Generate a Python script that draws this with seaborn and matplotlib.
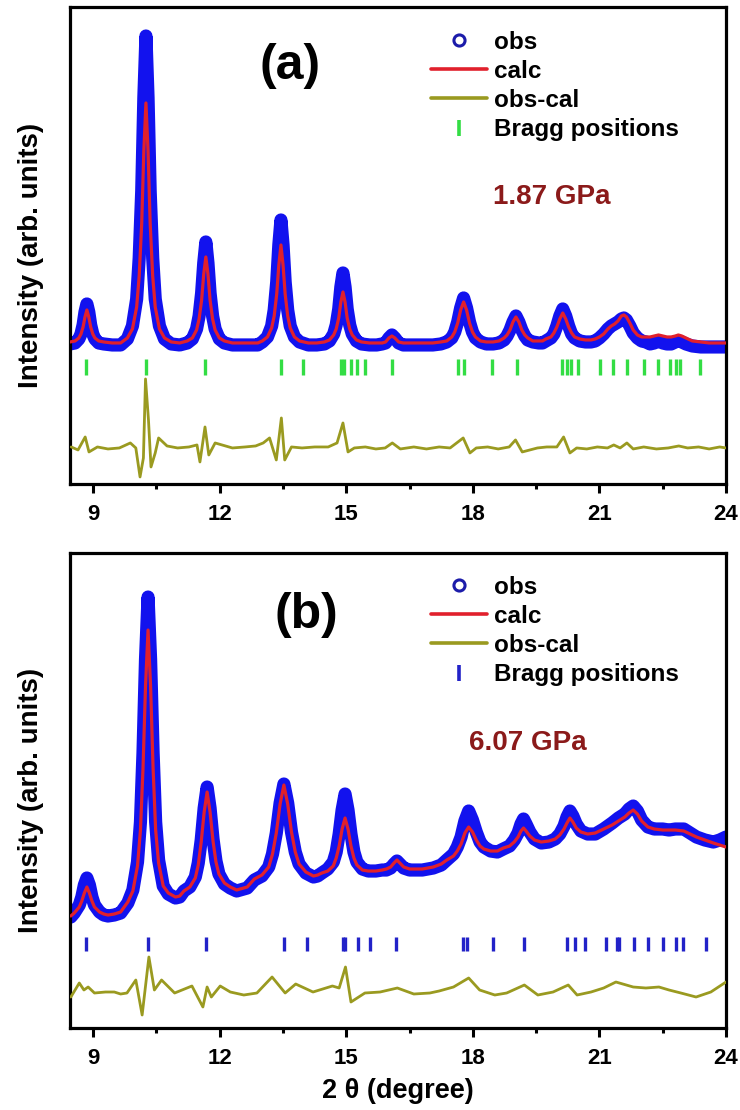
import matplotlib
matplotlib.use("Agg")
import matplotlib.pyplot as plt
from matplotlib.lines import Line2D
from matplotlib.ticker import MultipleLocator
import pandas as pd
import seaborn as sns

# ---------------- panel (a): 1.87 GPa ----------------
two_theta_a = [8.45, 8.57, 8.66, 8.71, 8.76, 8.805, 8.85, 8.895, 8.94, 8.99, 9.04, 9.13, 9.25,
               9.45, 9.65, 9.81, 9.93, 10.03, 10.09, 10.15, 10.20, 10.25, 10.30, 10.35, 10.41,
               10.47, 10.57, 10.69, 10.85, 11.05, 11.23, 11.35, 11.45, 11.51, 11.57, 11.62, 11.67,
               11.72, 11.77, 11.83, 11.89, 11.99, 12.11, 12.30, 12.50, 12.70, 12.90, 13.01, 13.13,
               13.23, 13.29, 13.35, 13.40, 13.45, 13.50, 13.55, 13.61, 13.67, 13.77, 13.89, 14.10,
               14.30, 14.48, 14.60, 14.70, 14.76, 14.82, 14.87, 14.92, 14.97, 15.02, 15.08, 15.14,
               15.24, 15.36, 15.55, 15.72, 15.85, 15.93, 16.01, 16.08, 16.15, 16.24, 16.35, 16.60,
               16.85, 17.05, 17.24, 17.38, 17.50, 17.57, 17.64, 17.71, 17.78, 17.85, 17.92, 17.99,
               18.06, 18.18, 18.32, 18.48, 18.62, 18.74, 18.81, 18.88, 18.95, 19.02, 19.09, 19.16,
               19.23, 19.30, 19.42, 19.56, 19.65, 19.73, 19.85, 19.92, 19.99, 20.06, 20.13, 20.20,
               20.27, 20.34, 20.41, 20.53, 20.67, 20.80, 20.90, 21.00, 21.10, 21.20, 21.28, 21.36,
               21.44, 21.52, 21.58, 21.64, 21.72, 21.80, 21.90, 22.00, 22.10, 22.20, 22.30, 22.40,
               22.50, 22.60, 22.70, 22.80, 22.87, 22.95, 23.05, 23.20, 23.40, 23.60, 23.80, 24.00]
calc_a = [142, 143, 146, 150, 157, 167, 174, 167, 157, 150, 146, 143, 142,
          141, 141, 146, 155, 177, 208, 261, 333, 381, 333, 261, 208,
          177, 155, 146, 142, 141, 143, 146, 154, 165, 184, 210, 227,
          210, 184, 165, 154, 146, 143, 141, 141, 141, 141, 143, 147,
          156, 168, 190, 219, 239, 219, 190, 168, 156, 147, 143, 141,
          141, 142, 144, 149, 155, 166, 182, 192, 182, 166, 155, 149,
          144, 142, 141, 141, 141, 142, 146, 148, 146, 142, 141, 141,
          141, 141, 142, 143, 147, 152, 161, 174, 182, 174, 161, 152,
          147, 143, 142, 142, 143, 146, 149, 154, 162, 167, 162, 154,
          149, 146, 143, 143, 143, 145, 147, 151, 157, 165, 171, 165,
          157, 151, 147, 145, 144, 144, 145, 147, 150, 155, 158, 160,
          163, 168, 169, 167, 161, 154, 149, 147, 147, 147, 148, 149,
          148, 147, 147, 148, 149, 148, 146, 143, 142, 141, 141, 141]
obs_a = [140, 141, 145, 150, 159, 172, 180, 172, 159, 150, 145, 141, 140,
         139, 139, 145, 158, 185, 226, 293, 386, 448, 386, 293, 226,
         185, 158, 145, 140, 139, 141, 145, 155, 168, 191, 221, 242,
         221, 191, 168, 155, 145, 141, 139, 139, 139, 139, 142, 147,
         158, 174, 202, 239, 264, 239, 202, 174, 158, 147, 142, 139,
         139, 140, 143, 150, 159, 175, 197, 211, 197, 175, 159, 150,
         143, 140, 139, 139, 140, 141, 146, 149, 146, 141, 139, 139,
         139, 139, 140, 142, 146, 152, 162, 176, 186, 176, 162, 152,
         146, 142, 140, 140, 141, 144, 148, 154, 162, 168, 162, 154,
         148, 144, 142, 141, 141, 143, 146, 150, 158, 168, 175, 168,
         158, 150, 146, 143, 142, 142, 143, 146, 150, 155, 158, 160,
         162, 165, 166, 164, 158, 151, 146, 143, 142, 140, 141, 143,
         141, 140, 140, 142, 143, 142, 140, 138, 137, 137, 137, 137]
diff_x_a = [8.48, 8.64, 8.81, 8.90, 9.10, 9.35, 9.62, 9.88, 10.01, 10.11, 10.19, 10.24, 10.31,
            10.37, 10.47, 10.55, 10.75, 11.00, 11.27, 11.46, 11.53, 11.65, 11.74, 11.89, 12.30,
            12.60, 12.85, 13.03, 13.18, 13.34, 13.46, 13.54, 13.70, 13.95, 14.25, 14.57, 14.78,
            14.92, 15.04, 15.19, 15.45, 15.70, 15.92, 16.09, 16.28, 16.60, 16.90, 17.20, 17.46,
            17.77, 17.93, 18.08, 18.35, 18.60, 18.86, 19.01, 19.17, 19.53, 19.75, 19.99, 20.15,
            20.30, 20.46, 20.70, 20.95, 21.19, 21.34, 21.49, 21.65, 21.80, 22.05, 22.35, 22.63,
            22.88, 23.09, 23.35, 23.60, 23.85, 24.00]
diff_a = [37, 34, 47, 32, 37, 35, 36, 41, 36, 7, 26, 105, 64,
          17, 31, 46, 38, 36, 37, 39, 22, 57, 29, 41, 36,
          37, 38, 41, 46, 24, 66, 24, 37, 36, 37, 37, 41,
          61, 32, 36, 37, 35, 36, 41, 35, 37, 35, 37, 36,
          46, 31, 36, 37, 35, 37, 44, 32, 36, 37, 37, 47,
          31, 36, 35, 37, 36, 39, 36, 41, 35, 37, 35, 36,
          38, 36, 37, 35, 37, 36]
bragg_a = [8.83, 10.26, 11.66, 13.45, 13.98, 14.87, 14.94, 15.11, 15.25, 15.45, 16.09,
           17.65, 17.80, 18.45, 19.04, 20.12, 20.22, 20.32, 20.50, 21.02, 21.33, 21.66,
           22.05, 22.38, 22.67, 22.82, 22.90, 23.39]

# ---------------- panel (b): 6.07 GPa ----------------
two_theta_b = [8.47, 8.55, 8.67, 8.73, 8.79, 8.85, 8.91, 8.97, 9.03, 9.15, 9.25, 9.35, 9.50, 9.65,
               9.82, 9.94, 10.05, 10.12, 10.18, 10.24, 10.30, 10.36, 10.42, 10.48, 10.55, 10.66,
               10.78, 10.95, 11.05, 11.15, 11.29, 11.42, 11.49, 11.56, 11.63, 11.70, 11.77, 11.84,
               11.91, 11.98, 12.11, 12.25, 12.40, 12.65, 12.82, 13.00, 13.16, 13.25, 13.34, 13.43,
               13.52, 13.61, 13.70, 13.79, 13.88, 14.04, 14.22, 14.32, 14.42, 14.56, 14.69, 14.76,
               14.83, 14.90, 14.97, 15.04, 15.11, 15.18, 15.25, 15.38, 15.52, 15.70, 15.85, 15.95,
               16.05, 16.13, 16.20, 16.27, 16.36, 16.50, 16.80, 17.06, 17.25, 17.38, 17.54, 17.63,
               17.72, 17.81, 17.90, 17.99, 18.08, 18.17, 18.26, 18.42, 18.58, 18.72, 18.87, 18.98,
               19.07, 19.14, 19.20, 19.26, 19.35, 19.46, 19.62, 19.80, 19.95, 20.06, 20.16, 20.23,
               20.30, 20.37, 20.45, 20.56, 20.72, 20.90, 21.10, 21.30, 21.45, 21.60, 21.70, 21.80,
               21.90, 22.00, 22.15, 22.30, 22.50, 22.65, 22.80, 23.00, 23.15, 23.30, 23.50, 23.70,
               23.85, 24.00]
calc_b = [112, 115, 121, 127, 135, 141, 135, 127, 121, 116, 114, 113, 114, 116,
          126, 137, 162, 198, 259, 342, 398, 342, 259, 198, 165, 142,
          135, 131, 132, 137, 141, 150, 163, 186, 216, 236, 216, 187,
          166, 154, 145, 141, 138, 141, 149, 153, 161, 174, 195, 224,
          243, 224, 196, 176, 164, 156, 152, 153, 155, 157, 162, 170,
          182, 199, 210, 199, 182, 170, 163, 158, 157, 157, 158, 159,
          161, 165, 168, 165, 161, 159, 159, 161, 164, 168, 172, 177,
          184, 195, 201, 196, 188, 182, 179, 177, 177, 180, 182, 186,
          191, 197, 200, 197, 192, 188, 186, 187, 189, 193, 199, 205,
          210, 206, 200, 196, 194, 195, 199, 203, 207, 211, 215, 218,
          214, 207, 201, 199, 198, 198, 198, 197, 194, 191, 188, 185,
          183, 181]
obs_b = [111, 115, 123, 131, 143, 150, 143, 131, 123, 116, 113, 112, 113, 115,
         125, 138, 166, 206, 275, 369, 431, 369, 275, 206, 168, 142,
         134, 130, 131, 137, 141, 151, 165, 188, 220, 241, 220, 189,
         167, 154, 144, 140, 137, 140, 148, 152, 161, 174, 195, 225,
         244, 225, 196, 176, 164, 155, 151, 152, 155, 159, 166, 176,
         194, 218, 234, 218, 194, 176, 166, 159, 157, 157, 158, 158,
         160, 164, 167, 164, 160, 158, 158, 160, 163, 168, 174, 181,
         191, 207, 217, 208, 196, 186, 181, 177, 176, 179, 182, 188,
         195, 204, 209, 204, 196, 189, 185, 186, 189, 194, 202, 211,
         217, 212, 204, 197, 194, 194, 199, 205, 210, 214, 219, 222,
         217, 208, 201, 199, 199, 198, 199, 199, 195, 191, 188, 186,
         188, 191]
diff_x_b = [8.47, 8.67, 8.78, 8.88, 9.03, 9.29, 9.50, 9.65, 9.80, 10.01, 10.16, 10.32, 10.45,
            10.62, 10.93, 11.34, 11.60, 11.70, 11.80, 12.01, 12.25, 12.57, 12.88, 13.24, 13.55,
            13.80, 14.21, 14.67, 14.83, 14.98, 15.11, 15.44, 15.80, 16.21, 16.60, 16.98, 17.20,
            17.54, 17.90, 18.16, 18.52, 18.80, 19.22, 19.54, 19.90, 20.26, 20.47, 20.80, 21.10,
            21.39, 21.80, 22.10, 22.41, 22.65, 22.93, 23.29, 23.64, 24.00]
diff_b = [31, 45, 38, 41, 35, 36, 36, 34, 35, 48, 13, 71, 38,
          48, 35, 42, 21, 41, 31, 42, 36, 33, 35, 51, 35,
          44, 36, 42, 40, 61, 26, 35, 36, 40, 34, 35, 37,
          41, 50, 38, 33, 35, 43, 33, 36, 43, 33, 36, 40,
          46, 41, 40, 41, 38, 35, 31, 36, 46]
bragg_b = [8.84, 10.29, 11.68, 13.52, 14.06, 14.93, 14.98, 15.27, 15.55, 16.18,
           17.76, 17.86, 18.48, 19.20, 20.23, 20.43, 20.66, 21.15, 21.41, 21.46,
           21.82, 22.14, 22.50, 22.81, 22.99, 23.53]

legend_labels = ["obs", "calc", "obs-cal", "Bragg positions"]
tick_values = [9, 12, 15, 18, 21, 24]

# ---------------- style ----------------
OBS_BLUE = "#1212ee"
OBS_EDGE = "#1c1caa"
CALC_RED = "#e1202c"
OLIVE = "#9a9a20"
GREEN = "#33dd44"
BRAGG_BLUE = "#2222c8"
PRESS = "#8b1a1a"

sns.set_theme(style="white")
plt.rcParams["font.family"] = ["Liberation Sans", "DejaVu Sans"]
plt.rcParams["font.weight"] = "bold"
plt.rcParams["axes.labelweight"] = "bold"
plt.rcParams["text.color"] = "black"
plt.rcParams["axes.labelcolor"] = "black"
plt.rcParams["xtick.color"] = "black"
plt.rcParams["xtick.labelcolor"] = "black"

fig = plt.figure(figsize=(7.4, 11.1), dpi=100)
ax_a = fig.add_axes([0.0946, 0.5640, 0.8865, 0.4297])
ax_b = fig.add_axes([0.0946, 0.07387, 0.8865, 0.4279])


def draw_panel(ax, x, obs, calc, dx, diff, bragg, bragg_level, bragg_size, bragg_color,
               ylim, tag, tag_xy, pressure, press_xy, legend_top):
    df = pd.DataFrame({"two_theta": x, "obs": obs, "calc": calc})
    sns.lineplot(data=df, x="two_theta", y="obs", ax=ax, color=OBS_BLUE, lw=9.5,
                 solid_capstyle="round", solid_joinstyle="round",
                 estimator=None, sort=False, zorder=2)
    sns.lineplot(data=df, x="two_theta", y="calc", ax=ax, color=CALC_RED, lw=2.3,
                 estimator=None, sort=False, zorder=3)
    dd = pd.DataFrame({"two_theta": dx, "diff": diff})
    sns.lineplot(data=dd, x="two_theta", y="diff", ax=ax, color=OLIVE, lw=2.0,
                 estimator=None, sort=False, zorder=3)
    sns.scatterplot(x=bragg, y=[bragg_level] * len(bragg), ax=ax, marker="|",
                    s=bragg_size, linewidth=2.4, color=bragg_color, zorder=3)

    ax.set_xlim(8.45, 24.0)
    ax.set_ylim(*ylim)
    ax.set_yticks([])
    ax.set_xticks(tick_values)
    ax.set_xticklabels([str(t) for t in tick_values])
    ax.xaxis.set_minor_locator(MultipleLocator(1.5))
    ax.tick_params(axis="x", which="major", direction="out", length=6.5, width=2.2,
                   labelsize=16, pad=8, color="black", labelcolor="black", bottom=True)
    ax.tick_params(axis="x", which="minor", direction="out", length=3.8, width=2.2,
                   color="black", bottom=True)
    for sp in ax.spines.values():
        sp.set_color("black")
        sp.set_linewidth(2.3)
        sp.set_visible(True)
    ax.set_xlabel("")
    ax.set_ylabel("Intensity (arb. units)", fontsize=20, fontweight="bold", color="black")
    ax.yaxis.set_label_coords(-0.040, 0.48)

    ax.text(tag_xy[0], tag_xy[1], tag, transform=ax.transAxes, ha="center", va="center",
            fontsize=36, fontweight="bold", color="black")
    ax.text(press_xy[0], press_xy[1], pressure, transform=ax.transAxes, ha="center",
            va="center", fontsize=20, fontweight="bold", color=PRESS)

    handles = [
        Line2D([], [], ls="none", marker="o", ms=8, mfc="white", mec=OBS_EDGE, mew=2.2),
        Line2D([], [], color=CALC_RED, lw=2.6),
        Line2D([], [], color=OLIVE, lw=2.6),
        Line2D([], [], ls="none", marker="|", ms=11, mew=2.6, color=bragg_color),
    ]
    leg = ax.legend(handles, legend_labels, loc="upper left",
                    bbox_to_anchor=(0.5503, legend_top), frameon=False,
                    prop={"size": 17.5, "weight": "bold"}, handlelength=2.3,
                    handletextpad=0.3, labelspacing=0.25, borderpad=0, borderaxespad=0)
    for t in leg.get_texts():
        t.set_color("black")


draw_panel(ax_a, two_theta_a, obs_a, calc_a, diff_x_a, diff_a, bragg_a, 116.5, 117, GREEN,
           (0, 477), "(a)", (0.335, 0.876), "1.87 GPa", (0.735, 0.602), 0.950)
draw_panel(ax_b, two_theta_b, obs_b, calc_b, diff_x_b, diff_b, bragg_b, 84.5, 95, BRAGG_BLUE,
           (0, 475), "(b)", (0.36, 0.870), "6.07 GPa", (0.698, 0.599), 0.952)

ax_b.set_xlabel("2 θ (degree)", fontsize=19.5, fontweight="bold", color="black")
ax_b.xaxis.set_label_coords(0.5, -0.105)

fig.savefig("out.png", dpi=100, facecolor="white")
